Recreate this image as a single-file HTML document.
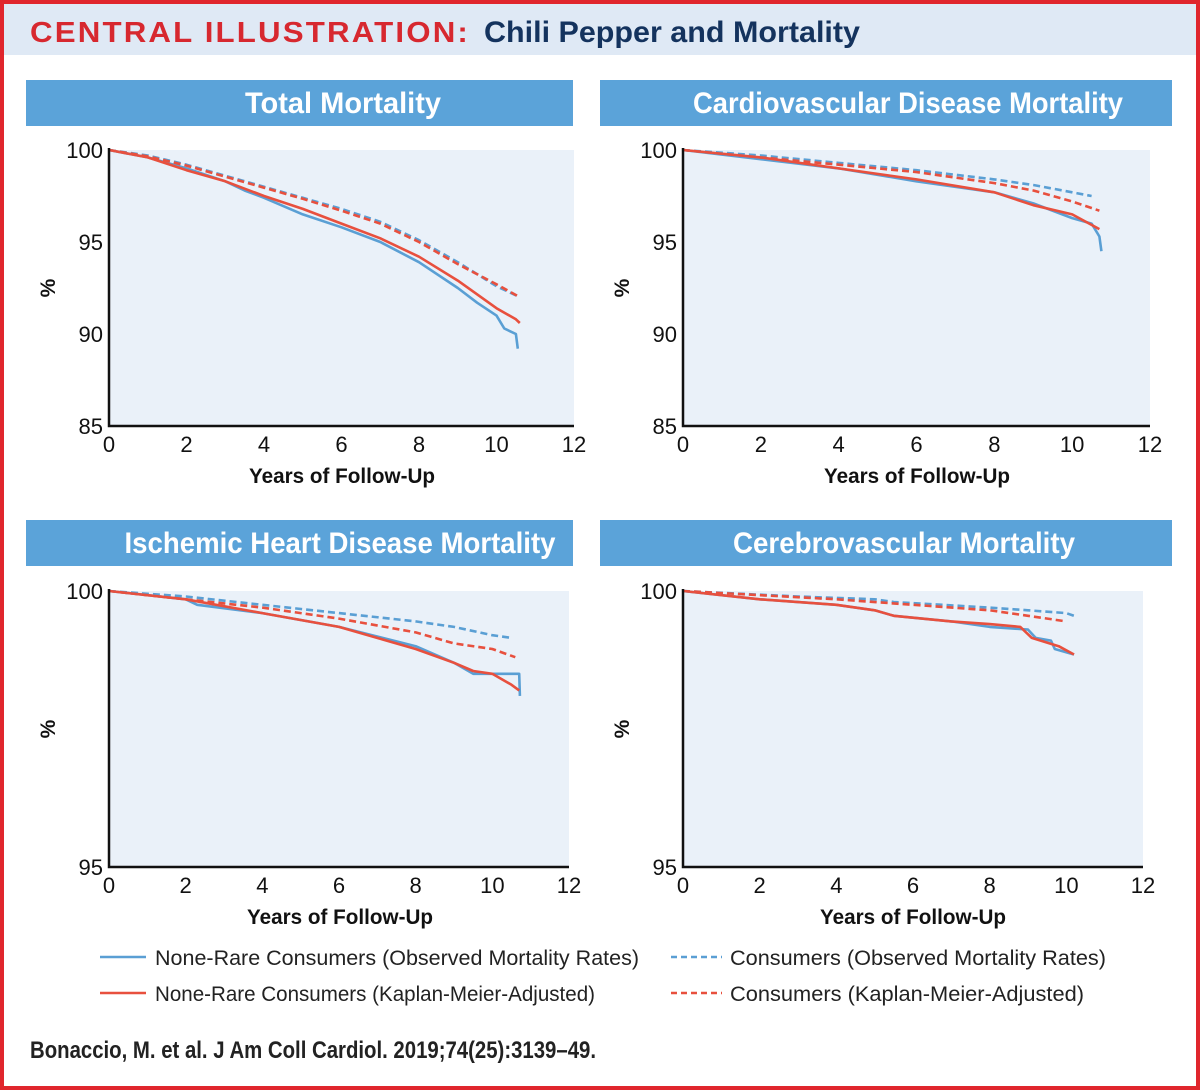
<!DOCTYPE html>
<html><head><meta charset="utf-8"><style>
html,body{margin:0;padding:0;background:#fff;}
#wrap{position:relative;width:1200px;height:1090px;overflow:hidden;}
svg{display:block;}
text{font-family:"Liberation Sans Narrow","Liberation Sans",sans-serif;}
</style></head><body>
<div id="wrap">
<svg id="svg" width="1200" height="1090" viewBox="0 0 1200 1090" xmlns="http://www.w3.org/2000/svg">
<rect x="0" y="0" width="1200" height="1090" fill="#fff"/>
<rect x="2" y="2" width="1196" height="1086" fill="none" stroke="#e0262d" stroke-width="4"/>
<rect x="4" y="4" width="1192" height="51" fill="#dfe9f5"/>
<text x="30" y="42" font-size="29" font-weight="bold" fill="#d7282f" textLength="440" lengthAdjust="spacingAndGlyphs" style="font-family:'Liberation Sans',sans-serif;letter-spacing:2px">CENTRAL ILLUSTRATION:</text>
<text x="484" y="42" font-size="30" font-weight="bold" fill="#14335e" textLength="376" lengthAdjust="spacingAndGlyphs">Chili Pepper and Mortality</text>
<g id="charts"></g>
<g>
<line x1="100" y1="957" x2="146" y2="957" stroke="#5a9fd4" stroke-width="2.5"/>
<text x="155" y="965" font-size="21" fill="#222" textLength="484" lengthAdjust="spacingAndGlyphs">None-Rare Consumers (Observed Mortality Rates)</text>
<line x1="100" y1="993" x2="146" y2="993" stroke="#e8503e" stroke-width="2.5"/>
<text x="155" y="1001" font-size="21" fill="#222" textLength="440" lengthAdjust="spacingAndGlyphs">None-Rare Consumers (Kaplan-Meier-Adjusted)</text>
<line x1="671" y1="957" x2="722" y2="957" stroke="#5a9fd4" stroke-width="2.5" stroke-dasharray="6,4"/>
<text x="730" y="965" font-size="21" fill="#222" textLength="376" lengthAdjust="spacingAndGlyphs">Consumers (Observed Mortality Rates)</text>
<line x1="671" y1="993" x2="722" y2="993" stroke="#e8503e" stroke-width="2.5" stroke-dasharray="6,4"/>
<text x="730" y="1001" font-size="21" fill="#222" textLength="354" lengthAdjust="spacingAndGlyphs">Consumers (Kaplan-Meier-Adjusted)</text>
</g>
<text x="30" y="1058" font-size="24" font-weight="bold" fill="#222" textLength="566" lengthAdjust="spacingAndGlyphs">Bonaccio, M. et al. J Am Coll Cardiol. 2019;74(25):3139–49.</text>
</svg>
</div>
<script>
const xTicks = [0,2,4,6,8,10,12];
// Total mortality
const totYTicks = [85,90,95,100];
const totBlueX = [0,1,2,3,3.5,4,5,6,7,8,9,9.5,10,10.2,10.5,10.55];
const totBlueY = [100,99.6,99.0,98.3,97.8,97.4,96.5,95.8,95.0,93.9,92.5,91.7,91.0,90.3,90.0,89.2];
const totRedX = [0,1,2,3,4,5,6,7,8,9,10,10.5,10.6];
const totRedY = [100,99.6,98.9,98.3,97.5,96.8,96.0,95.2,94.2,92.9,91.4,90.8,90.6];
const totBlueDX = [0,1,2,3,4,5,6,7,8,9,10,10.6];
const totBlueDY = [100,99.7,99.2,98.6,98.0,97.4,96.8,96.1,95.1,93.9,92.6,92.0];
const totRedDX = [0,1,2,3,4,5,6,7,8,9,10,10.6];
const totRedDY = [100,99.65,99.15,98.55,97.95,97.35,96.7,96.0,95.0,93.8,92.7,92.0];
// CVD
const cvdYTicks = [85,90,95,100];
const cvdBlueX = [0,2,4,6,8,9,10,10.5,10.7,10.75];
const cvdBlueY = [100,99.5,99.0,98.3,97.7,97.1,96.3,96.0,95.3,94.5];
const cvdRedX = [0,2,4,6,8,9,10,10.7];
const cvdRedY = [100,99.6,99.0,98.4,97.7,97.0,96.5,95.7];
const cvdBlueDX = [0,2,4,6,8,9,10,10.5];
const cvdBlueDY = [100,99.7,99.3,98.9,98.4,98.1,97.7,97.5];
const cvdRedDX = [0,2,4,6,8,9,10,10.7];
const cvdRedDY = [100,99.6,99.2,98.8,98.2,97.8,97.2,96.7];
// IHD
const ihdYTicks = [95,100];
const ihdBlueX = [0,2,2.3,4,6,8,9,9.5,10.7,10.72];
const ihdBlueY = [100,99.85,99.75,99.6,99.35,99.0,98.7,98.5,98.5,98.1];
const ihdRedX = [0,2,4,6,8,9,9.5,10,10.5,10.7];
const ihdRedY = [100,99.85,99.6,99.35,98.95,98.7,98.55,98.5,98.3,98.2];
const ihdBlueDX = [0,2,4,6,8,9,10,10.5];
const ihdBlueDY = [100,99.9,99.75,99.6,99.45,99.35,99.2,99.15];
const ihdRedDX = [0,2,4,6,8,9,10,10.6];
const ihdRedDY = [100,99.85,99.7,99.5,99.25,99.05,98.95,98.8];
// Cerebrovascular
const cbvYTicks = [95,100];
const cbvBlueX = [0,2,4,5,5.5,7,8,9,9.2,9.6,9.7,10.2];
const cbvBlueY = [100,99.85,99.75,99.65,99.55,99.45,99.35,99.3,99.15,99.1,98.95,98.85];
const cbvRedX = [0,2,4,5,5.5,7,8,8.8,9.1,9.8,10.2];
const cbvRedY = [100,99.85,99.75,99.65,99.55,99.45,99.4,99.35,99.15,99.0,98.85];
const cbvBlueDX = [0,3,5,5.5,8,9,10,10.2];
const cbvBlueDY = [100,99.9,99.85,99.8,99.7,99.65,99.6,99.55];
const cbvRedDX = [0,4,6,8,9,10];
const cbvRedDY = [100,99.85,99.75,99.65,99.55,99.45];

const NS="http://www.w3.org/2000/svg";
const root=document.getElementById('charts');
function mk(tag,attrs,parent){const e=document.createElementNS(NS,tag);for(const k in attrs)e.setAttribute(k,attrs[k]);parent.appendChild(e);return e;}

const panels=[
 {key:'total',title:'Total Mortality',tc:343,tl:196,bx:26,bw:547,by:80,bh:46,x0:109,x1:574,y0:150,y1:426,ymin:85,ymax:100,yt:totYTicks,xc:342,
  s:[[totBlueX,totBlueY,'#5a9fd4',0],[totRedX,totRedY,'#e8503e',0],[totBlueDX,totBlueDY,'#5a9fd4',1],[totRedDX,totRedDY,'#e8503e',1]]},
 {key:'cvd',title:'Cardiovascular Disease Mortality',tc:908,tl:430,bx:600,bw:572,by:80,bh:46,x0:683,x1:1150,y0:150,y1:426,ymin:85,ymax:100,yt:cvdYTicks,xc:917,
  s:[[cvdBlueX,cvdBlueY,'#5a9fd4',0],[cvdRedX,cvdRedY,'#e8503e',0],[cvdBlueDX,cvdBlueDY,'#5a9fd4',1],[cvdRedDX,cvdRedDY,'#e8503e',1]]},
 {key:'ihd',title:'Ischemic Heart Disease Mortality',tc:340,tl:431,bx:26,bw:547,by:520,bh:46,x0:109,x1:569,y0:591,y1:867,ymin:95,ymax:100,yt:ihdYTicks,xc:340,
  s:[[ihdBlueX,ihdBlueY,'#5a9fd4',0],[ihdRedX,ihdRedY,'#e8503e',0],[ihdBlueDX,ihdBlueDY,'#5a9fd4',1],[ihdRedDX,ihdRedDY,'#e8503e',1]]},
 {key:'cerebro',title:'Cerebrovascular Mortality',tc:904,tl:342,bx:600,bw:572,by:520,bh:46,x0:683,x1:1143,y0:591,y1:867,ymin:95,ymax:100,yt:cbvYTicks,xc:913,
  s:[[cbvBlueX,cbvBlueY,'#5a9fd4',0],[cbvRedX,cbvRedY,'#e8503e',0],[cbvBlueDX,cbvBlueDY,'#5a9fd4',1],[cbvRedDX,cbvRedDY,'#e8503e',1]]}
];
const names=['none-rare-observed-line','none-rare-km-line','consumers-observed-line','consumers-km-line'];
panels.forEach(p=>{
 const g=mk('g',{},root);
 
 
 const sx=v=>p.x0+(v-0)/(12-0)*(p.x1-p.x0);
 const sy=v=>p.y1-(v-p.ymin)/(p.ymax-p.ymin)*(p.y1-p.y0);
 const b=mk('rect',{x:p.bx,y:p.by,width:p.bw,height:p.bh,fill:'#5ba3d9'},g);
 
 
 const t=mk('text',{x:p.tc-p.tl/2,y:p.by+33,'font-size':30,'font-weight':'bold',fill:'#fff',textLength:p.tl,lengthAdjust:'spacingAndGlyphs'},g);
 t.textContent=p.title;
 
 
 const bg=mk('rect',{x:p.x0,y:p.y0,width:p.x1-p.x0,height:p.y1-p.y0,fill:'#eaf1f9'},g);
 
 
 p.s.forEach((s,i)=>{
  const pts=s[0].map((x,j)=>sx(x).toFixed(1)+','+sy(s[1][j]).toFixed(1)).join(' ');
  const a={points:pts,fill:'none',stroke:s[2],'stroke-width':2.6,'stroke-linejoin':'round'};
  if(s[3])a['stroke-dasharray']='7,4';
  const l=mk('polyline',a,g);
  
  
 });
 const ax=mk('polyline',{points:`${p.x0},${p.y0-2} ${p.x0},${p.y1} ${p.x1},${p.y1}`,fill:'none',stroke:'#111','stroke-width':2.5},g);
 
 
 xTicks.forEach(v=>{
  const tx=mk('text',{x:sx(v),y:p.y1+26,'font-size':22,fill:'#111','text-anchor':'middle'},g);
  tx.textContent=v;
  
  
 });
 p.yt.forEach(v=>{
  const ty=mk('text',{x:p.x0-6,y:sy(v)+8,'font-size':22,fill:'#111','text-anchor':'end'},g);
  ty.textContent=v;
  
  
 });
 const xt=mk('text',{x:p.xc-93,y:p.y1+57,'font-size':21,'font-weight':'bold',fill:'#111',textLength:186,lengthAdjust:'spacingAndGlyphs'},g);
 xt.textContent='Years of Follow-Up';
 
 
 const cy=(p.y0+p.y1)/2;
 const yx=p.x0-54;
 const yt=mk('text',{x:yx,y:cy,'font-size':21,'font-weight':'bold',fill:'#111','text-anchor':'middle',transform:`rotate(-90 ${yx} ${cy})`},g);
 yt.textContent='%';
 
 
});
</script>
</body></html>
